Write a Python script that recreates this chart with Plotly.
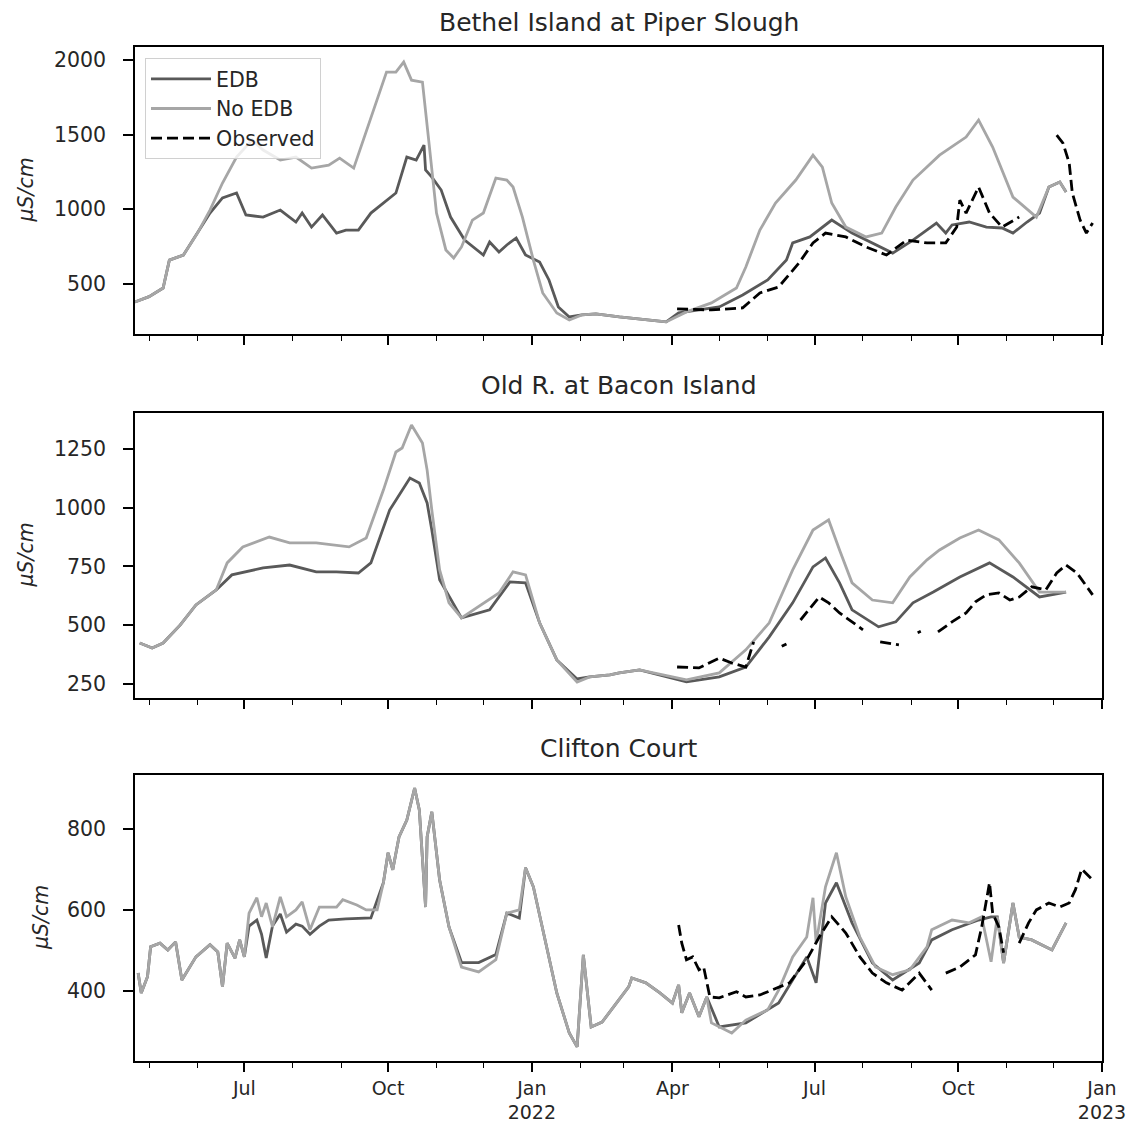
import plotly.graph_objects as go

# ---------------- Data ----------------
# Panel 1: Bethel Island at Piper Slough
bethel_noedb_dates = ["2021-04-22","2021-05-01","2021-05-10","2021-05-14","2021-05-23","2021-06-01","2021-06-09","2021-06-17","2021-06-26","2021-07-06","2021-07-13","2021-07-24","2021-08-03","2021-08-13","2021-08-24","2021-08-31","2021-09-09","2021-09-20","2021-09-30","2021-10-06","2021-10-11","2021-10-16","2021-10-23","2021-10-27","2021-11-01","2021-11-07","2021-11-12","2021-11-17","2021-11-24","2021-12-01","2021-12-09","2021-12-16","2021-12-20","2021-12-26","2022-01-02","2022-01-08","2022-01-17","2022-01-25","2022-02-02","2022-02-11","2022-02-26","2022-03-28","2022-04-10","2022-04-26","2022-05-12","2022-05-18","2022-05-27","2022-06-06","2022-06-19","2022-06-30","2022-07-06","2022-07-12","2022-07-21","2022-08-03","2022-08-13","2022-08-22","2022-09-02","2022-09-19","2022-10-06","2022-10-14","2022-10-23","2022-11-05","2022-11-20","2022-11-28","2022-12-05","2022-12-09"]
bethel_noedb_vals = [380,415,473,660,694,841,995,1176,1350,1464,1397,1330,1350,1276,1296,1343,1276,1618,1919,1919,1986,1865,1852,1464,975,728,674,748,928,975,1209,1196,1149,948,660,440,306,259,293,300,279,246,313,373,473,614,861,1042,1196,1363,1283,1042,881,815,841,1015,1196,1363,1484,1598,1417,1082,948,1149,1183,1116]

bethel_edb_dates = ["2021-04-22","2021-05-01","2021-05-10","2021-05-14","2021-05-23","2021-06-01","2021-06-09","2021-06-17","2021-06-26","2021-07-02","2021-07-13","2021-07-24","2021-08-03","2021-08-07","2021-08-13","2021-08-20","2021-08-29","2021-09-04","2021-09-12","2021-09-20","2021-09-28","2021-10-06","2021-10-13","2021-10-19","2021-10-24","2021-10-25","2021-10-29","2021-11-04","2021-11-10","2021-11-19","2021-12-01","2021-12-05","2021-12-11","2021-12-16","2021-12-22","2021-12-28","2022-01-06","2022-01-12","2022-01-18","2022-01-25","2022-02-02","2022-02-11","2022-02-26","2022-03-28","2022-04-05","2022-05-01","2022-05-16","2022-06-01","2022-06-13","2022-06-17","2022-06-28","2022-07-12","2022-07-25","2022-08-07","2022-08-20","2022-09-02","2022-09-17","2022-09-23","2022-09-27","2022-10-08","2022-10-19","2022-10-29","2022-11-05","2022-11-14","2022-11-22","2022-11-28","2022-12-05","2022-12-09"]
bethel_edb_vals = [380,415,473,660,694,841,975,1076,1109,962,948,995,915,975,881,962,841,861,861,975,1042,1109,1350,1330,1430,1263,1216,1129,948,794,694,781,714,761,808,694,647,527,346,279,293,300,279,246,306,346,426,527,660,775,815,928,841,775,707,794,908,841,895,915,881,875,841,915,975,1149,1183,1116]

bethel_obs_dates = ["2022-04-04","2022-04-26","2022-05-16","2022-05-27","2022-06-08","2022-06-21","2022-06-30","2022-07-08","2022-07-21","2022-08-03","2022-08-16","2022-08-29","2022-09-11","2022-09-23","2022-09-30","2022-10-02","2022-10-06","2022-10-14","2022-10-21","2022-10-29","2022-11-09","2022-11-20","2022-12-03","2022-12-07","2022-12-11","2022-12-13","2022-12-18","2022-12-22","2022-12-26"]
bethel_obs_vals = [333,326,340,440,480,640,775,841,815,748,694,794,775,775,881,1062,975,1149,975,881,948,None,1497,1443,1310,1109,928,841,908]

# Panel 2: Old R. at Bacon Island
bacon_noedb_dates = ["2021-04-25","2021-05-03","2021-05-10","2021-05-21","2021-05-31","2021-06-13","2021-06-20","2021-06-30","2021-07-17","2021-07-30","2021-08-16","2021-09-06","2021-09-17","2021-09-28","2021-10-06","2021-10-10","2021-10-16","2021-10-23","2021-10-26","2021-10-29","2021-11-03","2021-11-09","2021-11-17","2021-11-28","2021-12-11","2021-12-20","2021-12-28","2022-01-06","2022-01-17","2022-01-30","2022-02-07","2022-02-20","2022-02-26","2022-03-11","2022-04-10","2022-05-01","2022-05-18","2022-06-02","2022-06-17","2022-06-30","2022-07-10","2022-07-17","2022-07-25","2022-08-07","2022-08-20","2022-08-31","2022-09-11","2022-09-19","2022-10-02","2022-10-14","2022-10-27","2022-11-09","2022-11-22","2022-12-09"]
bacon_noedb_vals = [424,403,424,501,586,650,765,833,875,850,850,833,871,1075,1237,1254,1352,1275,1160,990,735,595,531,578,637,727,714,510,352,258,280,288,297,310,267,297,395,510,735,905,948,820,680,607,595,705,778,820,871,905,863,765,641,641]

bacon_edb_dates = ["2021-04-25","2021-05-03","2021-05-10","2021-05-21","2021-05-31","2021-06-13","2021-06-23","2021-07-13","2021-07-30","2021-08-16","2021-08-29","2021-09-12","2021-09-20","2021-10-02","2021-10-15","2021-10-21","2021-10-26","2021-10-29","2021-11-03","2021-11-17","2021-12-05","2021-12-18","2021-12-28","2022-01-06","2022-01-17","2022-01-30","2022-02-07","2022-02-20","2022-02-26","2022-03-11","2022-04-10","2022-05-01","2022-05-18","2022-06-02","2022-06-17","2022-06-30","2022-07-08","2022-07-17","2022-07-25","2022-08-11","2022-08-22","2022-09-02","2022-09-15","2022-10-02","2022-10-21","2022-11-05","2022-11-22","2022-12-09"]
bacon_edb_vals = [424,403,424,501,586,650,714,744,756,727,727,722,765,990,1126,1105,1020,905,693,531,565,684,680,510,352,271,280,288,297,310,259,280,322,450,595,748,786,680,565,493,514,595,641,705,765,705,620,641]

bacon_obs_dates = ["2022-04-04","2022-04-18","2022-05-01","2022-05-09","2022-05-18","2022-05-23","2022-06-01","2022-06-10","2022-06-13","2022-06-17","2022-06-22","2022-07-04","2022-07-10","2022-07-17","2022-07-25","2022-08-01","2022-08-06","2022-08-12","2022-08-24","2022-08-30","2022-09-05","2022-09-07","2022-09-10","2022-09-18","2022-09-27","2022-10-06","2022-10-12","2022-10-19","2022-10-27","2022-11-03","2022-11-09","2022-11-17","2022-11-26","2022-12-03","2022-12-09","2022-12-16","2022-12-22","2022-12-26"]
bacon_obs_vals = [322,318,360,339,322,429,None,410,420,None,522,620,595,552,514,480,None,429,416,None,468,474,None,471,514,552,599,629,637,607,620,663,650,722,756,722,663,629]

# Panel 3: Clifton Court
clifton_noedb_dates = ["2021-04-24","2021-04-26","2021-04-30","2021-05-02","2021-05-08","2021-05-13","2021-05-18","2021-05-22","2021-05-31","2021-06-09","2021-06-14","2021-06-17","2021-06-20","2021-06-25","2021-06-28","2021-07-01","2021-07-04","2021-07-09","2021-07-12","2021-07-15","2021-07-19","2021-07-24","2021-07-28","2021-08-03","2021-08-07","2021-08-12","2021-08-18","2021-08-29","2021-09-02","2021-09-11","2021-09-17","2021-09-24","2021-09-28","2021-10-01","2021-10-04","2021-10-08","2021-10-13","2021-10-18","2021-10-21","2021-10-23","2021-10-25","2021-10-26","2021-10-29","2021-11-03","2021-11-09","2021-11-17","2021-11-28","2021-12-09","2021-12-16","2021-12-24","2021-12-28","2022-01-02","2022-01-08","2022-01-17","2022-01-25","2022-01-30","2022-02-03","2022-02-08","2022-02-15","2022-02-24","2022-03-04","2022-03-06","2022-03-15","2022-03-24","2022-04-01","2022-04-05","2022-04-07","2022-04-12","2022-04-18","2022-04-23","2022-04-26","2022-05-09","2022-05-18","2022-06-01","2022-06-08","2022-06-17","2022-06-26","2022-06-30","2022-07-02","2022-07-08","2022-07-15","2022-07-21","2022-07-30","2022-08-09","2022-08-20","2022-08-31","2022-09-11","2022-09-14","2022-09-27","2022-10-08","2022-10-16","2022-10-22","2022-10-26","2022-10-30","2022-11-05","2022-11-09","2022-11-17","2022-11-30","2022-12-09"]
clifton_noedb_vals = [444,395,435,509,518,501,521,427,484,514,496,410,518,481,526,484,592,630,583,617,558,632,583,600,620,551,607,607,625,612,600,600,667,741,699,780,822,901,847,723,607,780,842,674,558,459,447,477,592,600,704,657,551,395,296,262,489,311,323,370,410,432,420,395,370,415,346,395,336,385,321,296,328,353,402,484,533,630,518,657,741,632,533,459,440,452,509,551,575,568,583,472,583,469,617,533,526,501,568]

clifton_edb_dates = ["2021-04-24","2021-04-26","2021-04-30","2021-05-02","2021-05-08","2021-05-13","2021-05-18","2021-05-22","2021-05-31","2021-06-09","2021-06-14","2021-06-17","2021-06-20","2021-06-25","2021-06-28","2021-07-01","2021-07-04","2021-07-09","2021-07-12","2021-07-15","2021-07-19","2021-07-24","2021-07-28","2021-08-03","2021-08-07","2021-08-12","2021-08-18","2021-08-24","2021-09-04","2021-09-14","2021-09-20","2021-09-28","2021-10-01","2021-10-04","2021-10-08","2021-10-13","2021-10-18","2021-10-21","2021-10-23","2021-10-25","2021-10-26","2021-10-29","2021-11-03","2021-11-09","2021-11-17","2021-11-28","2021-12-09","2021-12-16","2021-12-24","2021-12-28","2022-01-02","2022-01-08","2022-01-17","2022-01-25","2022-01-30","2022-02-03","2022-02-08","2022-02-15","2022-02-24","2022-03-04","2022-03-06","2022-03-15","2022-03-24","2022-04-01","2022-04-05","2022-04-07","2022-04-12","2022-04-18","2022-04-23","2022-05-01","2022-05-18","2022-06-08","2022-06-26","2022-07-02","2022-07-08","2022-07-15","2022-07-25","2022-08-07","2022-08-20","2022-09-06","2022-09-14","2022-09-27","2022-10-14","2022-10-22","2022-10-26","2022-10-30","2022-11-05","2022-11-09","2022-11-17","2022-11-30","2022-12-09"]
clifton_edb_vals = [444,395,435,509,518,501,521,427,484,514,496,410,518,481,526,484,560,575,540,481,560,590,545,565,560,540,560,575,578,580,580,667,741,699,780,822,901,847,723,607,780,842,674,558,470,470,490,592,580,704,657,551,395,296,262,489,311,323,370,410,432,420,395,370,415,346,395,336,385,311,321,370,484,420,617,667,568,469,427,469,526,551,575,583,583,469,617,533,526,501,568]

clifton_obs_dates = ["2022-04-05","2022-04-07","2022-04-10","2022-04-14","2022-04-18","2022-04-21","2022-04-25","2022-05-01","2022-05-12","2022-05-18","2022-05-27","2022-06-04","2022-06-15","2022-06-26","2022-07-04","2022-07-12","2022-07-21","2022-07-30","2022-08-07","2022-08-16","2022-08-26","2022-09-06","2022-09-14","2022-09-18","2022-09-23","2022-10-02","2022-10-12","2022-10-16","2022-10-21","2022-10-23","2022-10-27","2022-10-30","2022-11-04","2022-11-09","2022-11-15","2022-11-20","2022-11-28","2022-12-05","2022-12-11","2022-12-15","2022-12-19","2022-12-26"]
clifton_obs_vals = [563,518,477,484,452,459,385,383,398,385,390,402,420,477,533,583,543,484,444,420,402,444,402,None,444,459,489,558,667,592,558,494,None,518,568,600,617,607,617,650,701,674]

panel_titles = ["Bethel Island at Piper Slough", "Old R. at Bacon Island", "Clifton Court"]
y_ticks = [[500, 1000, 1500, 2000], [250, 500, 750, 1000, 1250], [400, 600, 800]]
y_ranges = [[165, 2087], [190, 1403], [227, 933]]
x_tick_vals = ["2021-07-01", "2021-10-01", "2022-01-01", "2022-04-01", "2022-07-01", "2022-10-01", "2023-01-01"]
x_tick_text = ["Jul", "Oct", "Jan<br>2022", "Apr", "Jul", "Oct", "Jan<br>2023"]
x_range = ["2021-04-22", "2023-01-01"]
series_names = ["EDB", "No EDB", "Observed"]
y_label = "<i>μS/cm</i>"

# ---------------- Figure ----------------
W, H = 1129, 1126
FONT = "DejaVu Sans"
TXT = "#262626"
EDB_COLOR = "#595959"
NOEDB_COLOR = "#a6a6a6"
OBS_COLOR = "#000000"
LW = 2.8

panels = [
    (bethel_edb_dates, bethel_edb_vals, bethel_noedb_dates, bethel_noedb_vals, bethel_obs_dates, bethel_obs_vals),
    (bacon_edb_dates, bacon_edb_vals, bacon_noedb_dates, bacon_noedb_vals, bacon_obs_dates, bacon_obs_vals),
    (clifton_edb_dates, clifton_edb_vals, clifton_noedb_dates, clifton_noedb_vals, clifton_obs_dates, clifton_obs_vals),
]

# pixel layout of the panels
left_px, right_px = 135, 1102
panel_px = [(47, 334), (413, 698), (775, 1061)]
title_px = [22, 385, 748]
ylabel_x_px = [25, 25, 41]

fig = go.Figure()
layout = dict(
    width=W, height=H,
    margin=dict(l=0, r=0, t=0, b=0, autoexpand=False),
    paper_bgcolor="white", plot_bgcolor="white",
    font=dict(family=FONT, size=20.5, color=TXT),
    showlegend=True,
    legend=dict(
        x=145 / W, y=1 - 58 / H, xanchor="left", yanchor="top",
        bgcolor="rgba(255,255,255,0.8)", bordercolor="#d0d0d0", borderwidth=1,
        font=dict(family=FONT, size=20.5, color=TXT),
        tracegroupgap=0, itemwidth=60,
    ),
    annotations=[],
)

for i, (ed, ev, nd, nv, od, ov) in enumerate(panels):
    k = "" if i == 0 else str(i + 1)
    xa, ya = "x" + k, "y" + k
    first = i == 0
    fig.add_trace(go.Scatter(x=ed, y=ev, mode="lines", name=series_names[0], legendgroup="edb",
                             showlegend=first, line=dict(color=EDB_COLOR, width=LW),
                             xaxis=xa, yaxis=ya))
    fig.add_trace(go.Scatter(x=nd, y=nv, mode="lines", name=series_names[1], legendgroup="noedb",
                             showlegend=first, line=dict(color=NOEDB_COLOR, width=LW),
                             xaxis=xa, yaxis=ya))
    fig.add_trace(go.Scatter(x=od, y=ov, mode="lines", name=series_names[2], legendgroup="obs",
                             showlegend=first, connectgaps=False,
                             line=dict(color=OBS_COLOR, width=LW, dash="11px,5px"),
                             xaxis=xa, yaxis=ya))

    top, bot = panel_px[i]
    last = i == 2
    layout["xaxis" + k] = dict(
        domain=[left_px / W, right_px / W], anchor=ya, type="date", range=x_range,
        automargin=False,
        tickmode="array", tickvals=x_tick_vals, ticktext=x_tick_text,
        showticklabels=last, ticks="outside", ticklen=9, tickwidth=1.5, tickcolor="black",
        ticklabelstandoff=0,
        minor=dict(dtick="M1", tick0="2021-01-01", ticks="outside", ticklen=5, tickwidth=1.2,
                   tickcolor="black", showgrid=False),
        showline=True, linecolor="black", linewidth=1.5, mirror=True, showgrid=False, zeroline=False,
        tickfont=dict(family=FONT, size=19, color=TXT),
        **({} if first else {"matches": "x"}),
    )
    layout["yaxis" + k] = dict(
        domain=[1 - bot / H, 1 - top / H], anchor=xa, range=y_ranges[i],
        automargin=False,
        tickmode="array", tickvals=y_ticks[i], ticks="outside", ticklen=10, tickwidth=1.5, tickcolor="black",
        ticklabelstandoff=13,
        showline=True, linecolor="black", linewidth=1.5, mirror=True, showgrid=False, zeroline=False,
        tickfont=dict(family=FONT, size=20.5, color=TXT),
    )
    layout["annotations"].append(dict(
        text=panel_titles[i], xref="paper", yref="paper",
        x=(left_px + right_px) / 2 / W, y=1 - title_px[i] / H,
        xanchor="center", yanchor="middle", showarrow=False,
        font=dict(family=FONT, size=25, color=TXT),
    ))
    layout["annotations"].append(dict(
        text=y_label, xref="paper", yref="paper",
        x=ylabel_x_px[i] / W, y=1 - (top + bot) / 2 / H, textangle=-90,
        xanchor="center", yanchor="middle", showarrow=False,
        font=dict(family=FONT, size=20.5, color=TXT),
    ))

fig.update_layout(**layout)
fig.write_html("out.html")
